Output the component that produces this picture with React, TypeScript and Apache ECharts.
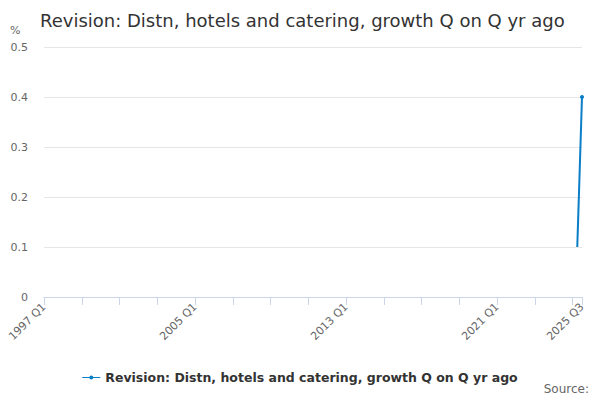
import { useEffect, useRef } from "react";
import * as echarts from "echarts";

const FONT = "DejaVu Sans";

const startYear = 1997;
const endLabel = "2025 Q3";
const quarters: string[] = [];
for (let y = startYear; y <= 2025; y++) {
  for (let q = 1; q <= 4; q++) {
    const label = `${y} Q${q}`;
    quarters.push(label);
    if (label === endLabel) break;
  }
}

const pointDates = ["2025 Q2", "2025 Q3"];
const pointValues = [0.1, 0.4];

const seriesName = "Revision: Distn, hotels and catering, growth Q on Q yr ago";

export default function App() {
  const chartRef = useRef<HTMLDivElement>(null);

  useEffect(() => {
    if (!chartRef.current) return;
    const chart = echarts.init(chartRef.current, undefined, { renderer: "svg" });

    const data = quarters.map((q) => {
      const i = pointDates.indexOf(q);
      return i >= 0 ? pointValues[i] : null;
    });
    const last = quarters.length - 1;

    chart.setOption({
      animation: false,
      textStyle: { fontFamily: FONT },
      title: {
        text: "Revision: Distn, hotels and catering, growth Q on Q yr ago",
        left: 35,
        top: 6,
        textStyle: { fontFamily: FONT, fontSize: 18, fontWeight: "normal", color: "#333333" },
      },
      graphic: [
        {
          type: "text",
          left: 10,
          top: 25,
          style: { text: "%", fontFamily: FONT, fontSize: 11, fill: "#666666" },
        },
        {
          type: "text",
          right: 11,
          top: 383,
          style: { text: "Source:", fontFamily: FONT, fontSize: 12, fill: "#666666" },
        },
      ],
      legend: {
        top: 366,
        left: "center",
        itemWidth: 18,
        itemHeight: 4,
        itemGap: 6,
        textStyle: { fontFamily: FONT, fontSize: 12.5, fontWeight: "bold", color: "#333333" },
        data: [{ name: seriesName, icon: "path://M0,1.5H18V2.5H0Z M9,0A2,2 0 1 1 9,4A2,2 0 1 1 9,0Z" }],
      },
      grid: { left: 44, right: 18, top: 47, bottom: 103, containLabel: false },
      xAxis: {
        type: "category",
        data: quarters,
        boundaryGap: false,
        axisLine: { lineStyle: { color: "#ccd6eb" } },
        axisTick: {
          length: 8,
          lineStyle: { color: "#ccd6eb" },
          interval: (i: number) => i % 8 === 0 || i === last,
        },
        axisLabel: {
          rotate: 45,
          color: "#666666",
          fontSize: 11,
          fontFamily: FONT,
          margin: 8,
          interval: (i: number) => i % 32 === 0 || i === last,
        },
        splitLine: { show: false },
      },
      yAxis: {
        type: "value",
        min: 0,
        max: 0.5,
        interval: 0.1,
        axisLine: { show: false },
        axisTick: { show: false },
        axisLabel: { color: "#666666", fontSize: 11, fontFamily: FONT, margin: 16 },
        splitLine: { lineStyle: { color: "#e6e6e6" } },
      },
      series: [
        {
          name: seriesName,
          type: "line",
          data,
          connectNulls: false,
          symbol: "circle",
          symbolSize: 4,
          showSymbol: true,
          lineStyle: { color: "#0a7fc7", width: 2 },
          itemStyle: { color: "#0a7fc7" },
        },
      ],
    });

    return () => chart.dispose();
  }, []);

  return (
    <div
      ref={chartRef}
      style={{ position: "absolute", left: 0, top: 0, width: 600, height: 400 }}
    />
  );
}
